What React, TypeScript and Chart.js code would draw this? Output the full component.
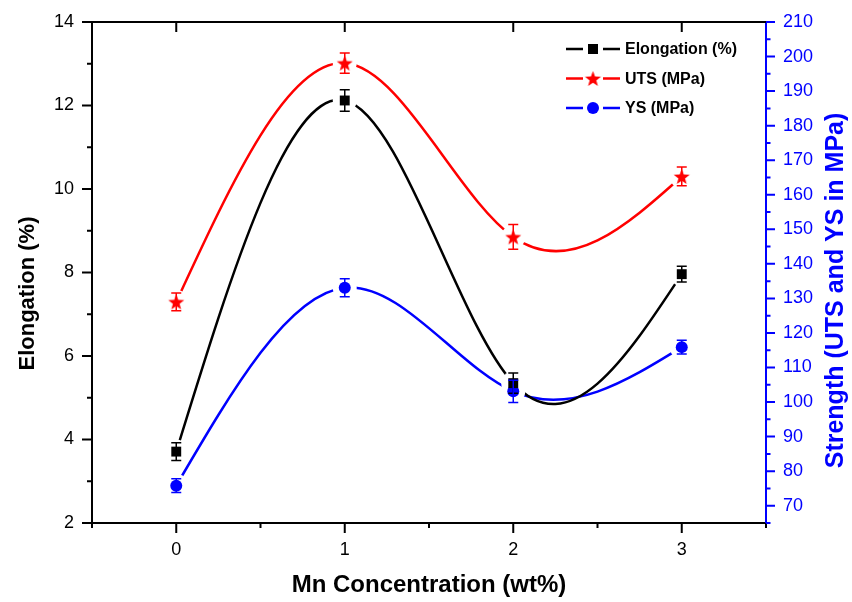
import React, { useEffect, useRef } from 'react';
import { Chart, registerables } from 'chart.js';

Chart.register(...registerables);

const FONT = '"Liberation Sans", Arial, Helvetica, sans-serif';

// ---- data ----
const mnConcentration = [0, 1, 2, 3];
const elongation = [3.71, 12.12, 5.35, 7.96];
const elongationErr = [0.21, 0.26, 0.24, 0.19];
const utsStrength = [129.0, 198.1, 147.8, 165.3];
const utsErr = [2.6, 2.9, 3.6, 2.7];
const ysStrength = [75.8, 133.1, 103.1, 115.9];
const ysErr = [2.0, 2.6, 3.2, 2.0];

// ---- ticks ----
const xTicks = [0, 1, 2, 3];
const xMinorTicks = [-0.5, 0.5, 1.5, 2.5, 3.5];
const elongationTicks = [2, 4, 6, 8, 10, 12, 14];
const elongationMinorTicks = [3, 5, 7, 9, 11, 13];
const strengthTicks = [70, 80, 90, 100, 110, 120, 130, 140, 150, 160, 170, 180, 190, 200, 210];
const strengthMinorTicks = [65, 75, 85, 95, 105, 115, 125, 135, 145, 155, 165, 175, 185, 195, 205];

const seriesNames = ['Elongation (%)', 'UTS (MPa)', 'YS (MPa)'];
const seriesColors = ['#000000', '#ff0000', '#0000ff'];
const leftTitle = 'Elongation (%)';
const rightTitle = 'Strength (UTS and YS in MPa)';
const bottomTitle = 'Mn Concentration (wt%)';

let starImage: HTMLCanvasElement | null = null;

function makeStar(color: string, outer: number, inner: number) {
  const size = Math.ceil(outer * 2 + 2);
  const c = document.createElement('canvas');
  c.width = size;
  c.height = size;
  const ctx = c.getContext('2d') as CanvasRenderingContext2D;
  ctx.translate(size / 2, size / 2 + 0.8);
  ctx.beginPath();
  for (let i = 0; i < 10; i++) {
    const r = i % 2 === 0 ? outer : inner;
    const a = -Math.PI / 2 + (i * Math.PI) / 5;
    ctx.lineTo(r * Math.cos(a), r * Math.sin(a));
  }
  ctx.closePath();
  ctx.fillStyle = color;
  ctx.fill();
  return c;
}

const naturalSplinePlugin = {
  id: 'naturalSpline',
  beforeDatasetDraw(chart: any, args: any) {
    const ds = chart.data.datasets[args.index];
    if (!ds.naturalSpline) return;
    const meta = args.meta;
    const line = meta.dataset;
    if (!line) return;
    line.updateControlPoints(chart.chartArea, 'x');
    const pts = meta.data;
    const n = pts.length;
    if (n < 3) return;
    const xs = pts.map((p: any) => p.x);
    const ys = pts.map((p: any) => p.y);
    const h: number[] = [];
    for (let i = 0; i < n - 1; i++) h.push(xs[i + 1] - xs[i]);
    const a: number[] = [], b: number[] = [], c: number[] = [], d: number[] = [];
    for (let i = 1; i < n - 1; i++) {
      a.push(h[i - 1]);
      b.push(2 * (h[i - 1] + h[i]));
      c.push(h[i]);
      d.push(6 * ((ys[i + 1] - ys[i]) / h[i] - (ys[i] - ys[i - 1]) / h[i - 1]));
    }
    const m = n - 2;
    const cp: number[] = new Array(m);
    const dp: number[] = new Array(m);
    cp[0] = c[0] / b[0];
    dp[0] = d[0] / b[0];
    for (let i = 1; i < m; i++) {
      const den = b[i] - a[i] * cp[i - 1];
      cp[i] = c[i] / den;
      dp[i] = (d[i] - a[i] * dp[i - 1]) / den;
    }
    const sol: number[] = new Array(m);
    sol[m - 1] = dp[m - 1];
    for (let i = m - 2; i >= 0; i--) sol[i] = dp[i] - cp[i] * sol[i + 1];
    const M = new Array(n).fill(0);
    for (let i = 0; i < m; i++) M[i + 1] = sol[i];
    for (let i = 0; i < n - 1; i++) {
      const s = (ys[i + 1] - ys[i]) / h[i];
      const dl = s - (h[i] * (2 * M[i] + M[i + 1])) / 6;
      const dr = s + (h[i] * (M[i] + 2 * M[i + 1])) / 6;
      pts[i].cp2x = xs[i] + h[i] / 3;
      pts[i].cp2y = ys[i] + (dl * h[i]) / 3;
      pts[i + 1].cp1x = xs[i + 1] - h[i] / 3;
      pts[i + 1].cp1y = ys[i + 1] - (dr * h[i]) / 3;
    }
  },
};

const gapPlugin = {
  id: 'symbolGaps',
  beforeDatasetsDraw(chart: any) {
    chart.$gapDone = false;
  },
  beforeDatasetDraw(chart: any, args: any) {
    const ds = chart.data.datasets[args.index];
    if (!ds.isMarker || chart.$gapDone) return;
    chart.$gapDone = true;
    const ctx = chart.ctx;
    const area = chart.chartArea;
    ctx.save();
    ctx.beginPath();
    ctx.rect(area.left + 1, area.top + 1, area.right - area.left - 2, area.bottom - area.top - 2);
    ctx.clip();
    ctx.fillStyle = '#ffffff';
    chart.data.datasets.forEach((d: any, i: number) => {
      if (!d.isMarker) return;
      const meta = chart.getDatasetMeta(i);
      meta.data.forEach((p: any) => {
        ctx.beginPath();
        ctx.arc(p.x, p.y, d.gapRadius, 0, Math.PI * 2);
        ctx.fill();
      });
    });
    ctx.restore();
  },
};

const errorBarPlugin = {
  id: 'errorBars',
  afterDatasetsDraw(chart: any) {
    const ctx = chart.ctx;
    chart.data.datasets.forEach((d: any) => {
      if (!d.errors) return;
      const yScale = chart.scales[d.yAxisID];
      const xScale = chart.scales.x;
      ctx.save();
      ctx.strokeStyle = d.pointBackgroundColor;
      ctx.lineWidth = 1.5;
      d.data.forEach((pt: any, j: number) => {
        const e = d.errors[j];
        const x = xScale.getPixelForValue(pt.x);
        const y1 = yScale.getPixelForValue(pt.y + e);
        const y2 = yScale.getPixelForValue(pt.y - e);
        ctx.beginPath();
        ctx.moveTo(x, y1);
        ctx.lineTo(x, y2);
        ctx.moveTo(x - 5, y1);
        ctx.lineTo(x + 5, y1);
        ctx.moveTo(x - 5, y2);
        ctx.lineTo(x + 5, y2);
        ctx.stroke();
      });
      ctx.restore();
    });
  },
};

const axesPlugin = {
  id: 'originAxes',
  afterDraw(chart: any) {
    const ctx = chart.ctx;
    const area = chart.chartArea;
    const { x, y, y2 } = chart.scales;
    ctx.save();
    ctx.lineWidth = 2;
    // top border
    ctx.strokeStyle = '#000000';
    ctx.beginPath();
    ctx.moveTo(area.left - 1, area.top);
    ctx.lineTo(area.right, area.top);
    ctx.stroke();
    // bottom & top ticks
    ctx.beginPath();
    xTicks.forEach((v) => {
      const px = x.getPixelForValue(v);
      ctx.moveTo(px, area.bottom);
      ctx.lineTo(px, area.bottom + 10);
      ctx.moveTo(px, area.top);
      ctx.lineTo(px, area.top + 10);
    });
    xMinorTicks.forEach((v) => {
      const px = x.getPixelForValue(v);
      ctx.moveTo(px, area.bottom);
      ctx.lineTo(px, area.bottom + 5);
    });
    // left ticks
    elongationTicks.forEach((v) => {
      const py = y.getPixelForValue(v);
      ctx.moveTo(area.left, py);
      ctx.lineTo(area.left - 10, py);
    });
    elongationMinorTicks.forEach((v) => {
      const py = y.getPixelForValue(v);
      ctx.moveTo(area.left, py);
      ctx.lineTo(area.left - 5, py);
    });
    ctx.stroke();
    // right ticks
    ctx.strokeStyle = '#0000ff';
    ctx.beginPath();
    strengthTicks.forEach((v) => {
      const py = y2.getPixelForValue(v);
      ctx.moveTo(area.right, py);
      ctx.lineTo(area.right + 9, py);
    });
    strengthMinorTicks.forEach((v) => {
      const py = y2.getPixelForValue(v);
      ctx.moveTo(area.right, py);
      ctx.lineTo(area.right + 4.5, py);
    });
    ctx.stroke();
    ctx.restore();

    const midY = (area.top + area.bottom) / 2;
    // left axis title (reads bottom to top)
    ctx.save();
    ctx.fillStyle = '#000000';
    ctx.font = `bold 22px ${FONT}`;
    ctx.textAlign = 'center';
    ctx.textBaseline = 'middle';
    ctx.translate(28, midY + 21);
    ctx.rotate(-Math.PI / 2);
    ctx.fillText(leftTitle, 0, 0);
    ctx.restore();

    // right axis title (reads bottom to top)
    ctx.save();
    ctx.fillStyle = '#0000ff';
    ctx.font = `bold 25px ${FONT}`;
    ctx.textAlign = 'center';
    ctx.textBaseline = 'middle';
    ctx.translate(836, midY + 18);
    ctx.rotate(-Math.PI / 2);
    ctx.fillText(rightTitle, 0, 0);
    ctx.restore();

    // legend
    const rows = [49, 78.5, 108];
    const lx = area.right - 200;
    ctx.save();
    ctx.font = `bold 16px ${FONT}`;
    ctx.textAlign = 'left';
    ctx.textBaseline = 'middle';
    seriesNames.forEach((name, i) => {
      const ry = rows[i];
      const col = seriesColors[i];
      ctx.strokeStyle = col;
      ctx.lineWidth = 2.5;
      ctx.beginPath();
      ctx.moveTo(lx, ry);
      ctx.lineTo(lx + 17, ry);
      ctx.moveTo(lx + 37, ry);
      ctx.lineTo(lx + 54, ry);
      ctx.stroke();
      ctx.fillStyle = col;
      const cx = lx + 27;
      if (i === 0) {
        ctx.fillRect(cx - 5, ry - 5, 10, 10);
      } else if (i === 1) {
        if (starImage) ctx.drawImage(starImage, cx - starImage.width / 2, ry - starImage.height / 2);
      } else {
        ctx.beginPath();
        ctx.arc(cx, ry, 6, 0, Math.PI * 2);
        ctx.fill();
      }
      ctx.fillStyle = '#000000';
      ctx.fillText(name, lx + 59, ry + 1);
    });
    ctx.restore();
  },
};

export default function App() {
  const canvasRef = useRef<HTMLCanvasElement | null>(null);

  useEffect(() => {
    document.body.style.margin = '0';
    const canvas = canvasRef.current;
    if (!canvas) return;
    starImage = makeStar('#ff0000', 8.4, 3.5);

    const toPts = (vals: number[]) => mnConcentration.map((xv, i) => ({ x: xv, y: vals[i] }));
    const seriesValues = [elongation, utsStrength, ysStrength];
    const seriesErrors = [elongationErr, utsErr, ysErr];
    const seriesAxes = ['y', 'y2', 'y2'];
    const markerStyles: any[] = ['rect', starImage, 'circle'];
    const markerRadius = [7, 8, 6];

    const lineSets = seriesValues.map((vals, i) => ({
      type: 'line',
      label: seriesNames[i] + ' curve',
      data: toPts(vals),
      yAxisID: seriesAxes[i],
      borderColor: seriesColors[i],
      borderWidth: 2.5,
      pointRadius: 0,
      pointHoverRadius: 0,
      tension: 0.4,
      fill: false,
      naturalSpline: true,
      order: 2,
    }));
    const markerSets = seriesValues.map((vals, i) => ({
      type: 'line',
      label: seriesNames[i],
      data: toPts(vals),
      yAxisID: seriesAxes[i],
      showLine: false,
      pointStyle: markerStyles[i],
      pointRadius: markerRadius[i],
      pointBackgroundColor: seriesColors[i],
      pointBorderColor: seriesColors[i],
      pointBorderWidth: 0,
      isMarker: true,
      gapRadius: 12,
      errors: seriesErrors[i],
      order: 1,
    }));

    const fitVertical = (w: number) => (s: any) => {
      s.width = w;
      s.paddingTop = 0;
      s.paddingBottom = 0;
    };

    const chart: any = new Chart(canvas, {
      type: 'line',
      data: { datasets: [...lineSets, ...markerSets] as any },
      options: {
        animation: false,
        responsive: false,
        events: [],
        layout: { padding: { top: 22, left: 0, right: 0, bottom: 0 } },
        plugins: { legend: { display: false }, tooltip: { enabled: false } },
        scales: {
          x: {
            type: 'linear',
            min: -0.5,
            max: 3.5,
            afterBuildTicks: (s: any) => {
              s.ticks = xTicks.map((v) => ({ value: v }));
            },
            afterFit: (s: any) => {
              s.height = 79;
              s.paddingLeft = 0;
              s.paddingRight = 0;
            },
            grid: { display: false, drawTicks: false },
            border: { display: true, color: '#000000', width: 2 },
            ticks: {
              color: '#000000',
              font: { family: FONT, size: 18 },
              padding: 16,
              maxRotation: 0,
              callback: (v: any) => String(v),
            },
            title: {
              display: true,
              text: bottomTitle,
              color: '#000000',
              font: { family: FONT, size: 24, weight: 'bold' },
              padding: { top: 0, bottom: 2 },
            },
          },
          y: {
            type: 'linear',
            position: 'left',
            min: 2,
            max: 14,
            afterBuildTicks: (s: any) => {
              s.ticks = elongationTicks.map((v) => ({ value: v }));
            },
            afterFit: fitVertical(92),
            grid: { display: false, drawTicks: false },
            border: { display: true, color: '#000000', width: 2 },
            ticks: {
              color: '#000000',
              font: { family: FONT, size: 18 },
              padding: 18,
              callback: (v: any) => String(v),
            },
          },
          y2: {
            type: 'linear',
            position: 'right',
            min: 65,
            max: 210,
            afterBuildTicks: (s: any) => {
              s.ticks = strengthTicks.map((v) => ({ value: v }));
            },
            afterFit: fitVertical(86),
            grid: { display: false, drawTicks: false },
            border: { display: true, color: '#0000ff', width: 2 },
            ticks: {
              color: '#0000ff',
              font: { family: FONT, size: 18 },
              padding: 17,
              callback: (v: any) => String(v),
            },
          },
        },
      } as any,
      plugins: [naturalSplinePlugin, gapPlugin, errorBarPlugin, axesPlugin] as any,
    });

    return () => {
      chart.destroy();
    };
  }, []);

  return (
    <div style={{ width: 852, height: 602, background: '#ffffff' }}>
      <canvas ref={canvasRef} width={852} height={602} style={{ display: 'block' }} />
    </div>
  );
}
